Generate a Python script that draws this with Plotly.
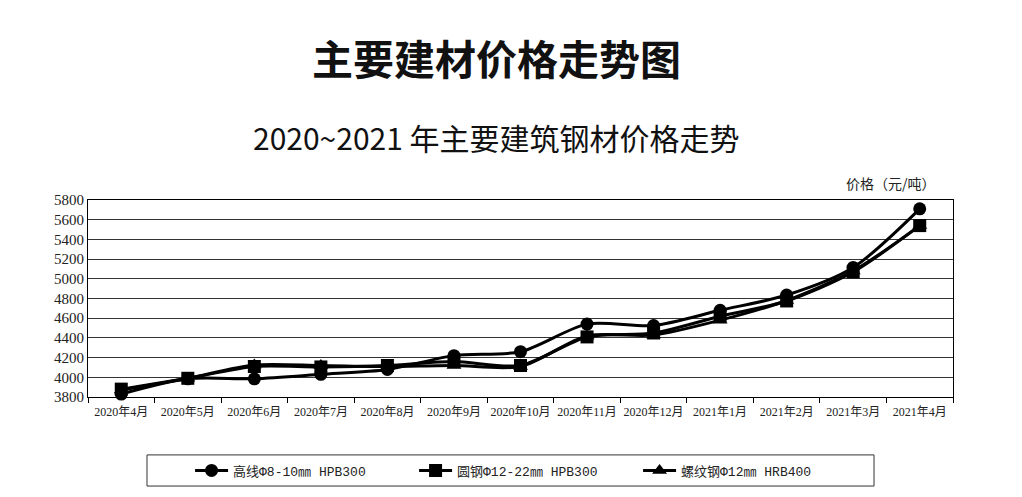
import plotly.graph_objects as go

months = ["2020年4月", "2020年5月", "2020年6月", "2020年7月", "2020年8月", "2020年9月",
          "2020年10月", "2020年11月", "2020年12月", "2021年1月", "2021年2月", "2021年3月", "2021年4月"]
gaoxian = [3830, 3985, 3985, 4030, 4080, 4220, 4260, 4540, 4525, 4680, 4835, 5115, 5710]
yuangang = [3880, 3990, 4110, 4105, 4120, 4160, 4120, 4410, 4450, 4620, 4775, 5070, 5540]
luowen = [3870, 3990, 4125, 4120, 4110, 4120, 4110, 4420, 4430, 4580, 4780, 5080, 5540]

names = ["高线Φ8-10㎜ HPB300", "圆钢Φ12-22㎜ HPB300", "螺纹钢Φ12㎜ HRB400"]
symbols = ["circle", "square", "triangle-up"]
series = [gaoxian, yuangang, luowen]

fig = go.Figure()
for name, sym, vals in zip(names, symbols, series):
    fig.add_trace(go.Scatter(
        x=months, y=vals, name=name, mode="lines+markers",
        line=dict(color="black", width=3, shape="spline", smoothing=0.8),
        marker=dict(symbol=sym, size=13, color="black"),
        cliponaxis=False,
    ))

fig.update_layout(
    width=1022, height=497,
    margin=dict(l=88, r=69, t=200, b=100, autoexpand=False),
    paper_bgcolor="white", plot_bgcolor="white",
    showlegend=True,
    legend=dict(
        orientation="h", x=0.118, xanchor="left", y=-0.373, yanchor="middle",
        borderwidth=0, bgcolor="rgba(0,0,0,0)",
        font=dict(family="Liberation Mono, Noto Sans CJK SC", size=13, color="#222"),
        entrywidth=176, entrywidthmode="pixels", itemwidth=33,
    ),
    shapes=[
        dict(type="rect", xref="paper", yref="paper", x0=0.0682, x1=0.9087, y0=-0.452, y1=-0.294,
             line=dict(color="#333", width=1), fillcolor="rgba(0,0,0,0)", layer="below"),
    ],
    annotations=[
        dict(text="<b>主要建材价格走势图</b>", xref="paper", yref="paper",
             x=0.472, y=1.0, yshift=143, xanchor="center", yanchor="middle", showarrow=False,
             font=dict(family="Noto Sans CJK SC", size=41, color="#111")),
        dict(text="2020~2021 年主要建筑钢材价格走势", xref="paper", yref="paper",
             x=0.472, y=1.0, yshift=63, xanchor="center", yanchor="middle", showarrow=False,
             font=dict(family="Noto Sans CJK SC", size=30, color="#111")),
        dict(text="价格（元/吨）", xref="paper", yref="paper",
             x=1.0, y=1.0, xshift=-15, yshift=17, xanchor="right", yanchor="middle", showarrow=False,
             font=dict(family="Noto Sans CJK SC", size=14, color="#222")),
    ],
)

fig.update_xaxes(
    type="category", range=[-0.5, len(months) - 0.5],
    tickson="boundaries", ticks="outside", ticklen=5, tickcolor="black",
    showline=True, linecolor="black", linewidth=1, mirror=True, showgrid=False,
    ticklabelstandoff=4, tickangle=0,
    tickfont=dict(family="Liberation Serif, Noto Sans CJK SC", size=12, color="#222"),
)
fig.update_yaxes(
    range=[3800, 5800], dtick=200, showline=True, linecolor="black", linewidth=1, mirror=True,
    showgrid=True, gridcolor="#333", gridwidth=1, ticks="", zeroline=False,
    tickfont=dict(family="Liberation Serif", size=15, color="#222"),
)

fig.write_html("out.html")
